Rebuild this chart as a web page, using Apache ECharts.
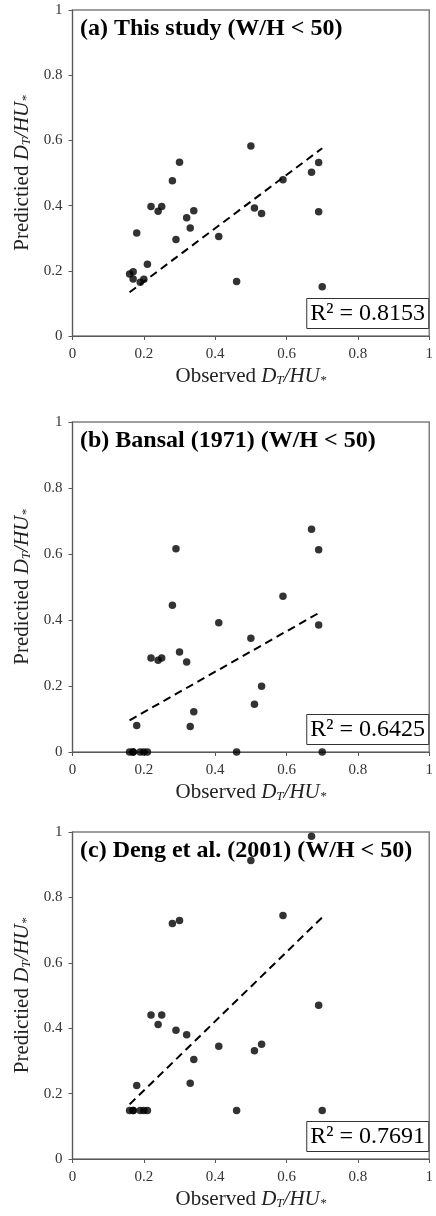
<!DOCTYPE html>
<html>
<head>
<meta charset="utf-8">
<script src="https://cdn.jsdelivr.net/npm/echarts@6/dist/echarts.min.js"></script>
<style>
  html, body { margin: 0; padding: 0; background: #fff; }
  #main { width: 436px; height: 1216px; }
</style>
</head>
<body>
<div id="main"></div>
<script>
// observed values (shared by the three panels)
var observed = [0.16, 0.17, 0.17, 0.18, 0.19, 0.20, 0.21, 0.22, 0.24, 0.25, 0.28, 0.29, 0.30,
                0.32, 0.33, 0.34, 0.41, 0.46, 0.50, 0.51, 0.53, 0.59, 0.67, 0.69, 0.69, 0.70];
// predicted values, one array per panel
var predThisStudy = [0.190, 0.197, 0.175, 0.316, 0.165, 0.174, 0.220, 0.397, 0.383, 0.397, 0.476, 0.296, 0.533,
                     0.363, 0.331, 0.384, 0.305, 0.167, 0.583, 0.393, 0.376, 0.479, 0.502, 0.532, 0.381, 0.151];
var predBansal = [0, 0, 0, 0.080, 0, 0, 0, 0.285, 0.278, 0.285, 0.445, 0.616, 0.303,
                  0.273, 0.077, 0.122, 0.392, 0, 0.345, 0.145, 0.199, 0.472, 0.675, 0.613, 0.385, 0];
var predDeng = [0.148, 0.148, 0.148, 0.225, 0.148, 0.148, 0.148, 0.440, 0.411, 0.440, 0.720, 0.394, 0.729,
                0.380, 0.232, 0.304, 0.345, 0.148, 0.913, 0.331, 0.351, 0.745, 0.987, 0.470, null, 0.148];
// trend line end points
var trendThisStudy = [[0.16, 0.134], [0.70, 0.576]];
var trendBansal = [[0.16, 0.096], [0.69, 0.421]];
var trendDeng = [[0.16, 0.167], [0.70, 0.739]];
var panelTitles = ['(a) This study (W/H < 50)', '(b) Bansal (1971) (W/H < 50)', '(c) Deng et al. (2001) (W/H < 50)'];
var r2Labels = ['R\u00b2 = 0.8153', 'R\u00b2 = 0.6425', 'R\u00b2 = 0.7691'];

var chart = echarts.init(document.getElementById('main'));
var FONT = '"Liberation Serif", "Times New Roman", serif';

// panel positions
var grids = [
  { left: 72.5, top: 10, width: 362, height: 326 },
  { left: 72.5, top: 422, width: 362, height: 330 },
  { left: 72.5, top: 832, width: 362, height: 327 }
];
var preds = [predThisStudy, predBansal, predDeng];
var trends = [trendThisStudy, trendBansal, trendDeng];

// axis names: italic D, subscript T, italic /HU, subscript *
var nameRich = {
  n: { fontFamily: FONT, fontSize: 21, color: '#222', lineHeight: 21, verticalAlign: 'top' },
  i: { fontFamily: FONT, fontSize: 21, fontStyle: 'italic', color: '#222', lineHeight: 21, verticalAlign: 'top' },
  s: { fontFamily: FONT, fontSize: 13, fontStyle: 'italic', color: '#222', lineHeight: 13, padding: [11, 0, 0, 0], verticalAlign: 'bottom' }
};

var xAxes = [], yAxes = [], series = [], titles = [];
for (var k = 0; k < 3; k++) {
  xAxes.push({
    gridIndex: k, type: 'value', min: 0, max: 1, interval: 0.2,
    name: '{n|Observed }{i|D}{s|T}{i|/HU}{s|*}',
    nameLocation: 'middle', nameGap: 24,
    nameTextStyle: { rich: nameRich },
    axisLine: { onZero: false, lineStyle: { color: '#595959', width: 1 } },
    axisTick: { show: true, length: 4, lineStyle: { color: '#595959' } },
    axisLabel: { fontFamily: FONT, fontSize: 15, color: '#333', margin: 11 },
    splitLine: { show: false }
  });
  yAxes.push({
    gridIndex: k, type: 'value', min: 0, max: 1, interval: 0.2,
    name: '{n|Predictied }{i|D}{s|T}{i|/HU}{s|*}',
    nameLocation: 'middle', nameGap: 35,
    nameTextStyle: { rich: nameRich },
    axisLine: { show: true, onZero: false, lineStyle: { color: '#595959', width: 1 } },
    axisTick: { show: true, length: 4, lineStyle: { color: '#595959' } },
    axisLabel: { fontFamily: FONT, fontSize: 15, color: '#333', margin: 10 },
    splitLine: { show: false }
  });
  var pts = [];
  for (var j = 0; j < observed.length; j++) {
    if (preds[k][j] !== null) pts.push([observed[j], preds[k][j]]);
  }
  series.push({
    type: 'scatter', xAxisIndex: k, yAxisIndex: k, data: pts,
    symbol: 'circle', symbolSize: 7.5,
    itemStyle: { color: '#000' }, silent: true
  });
  series.push({
    type: 'line', xAxisIndex: k, yAxisIndex: k, data: trends[k],
    symbol: 'none', silent: true,
    lineStyle: { color: '#000', width: 2, type: [8, 5] }
  });
  titles.push({
    text: panelTitles[k], left: 80, top: grids[k].top + 7, padding: 0,
    textStyle: { fontFamily: FONT, fontSize: 24, fontWeight: 'bold', color: '#000', lineHeight: 24 }
  });
  titles.push({
    text: r2Labels[k], right: 7, top: grids[k].top + grids[k].height - 38,
    padding: [2, 4, 2, 4], borderColor: '#333', borderWidth: 1, backgroundColor: '#fff',
    textStyle: { fontFamily: FONT, fontSize: 24, fontWeight: 'normal', color: '#000', lineHeight: 27 }
  });
}

var option = {
  animation: false,
  title: titles,
  grid: grids.map(function (g) {
    return { left: g.left, top: g.top, width: g.width, height: g.height,
             show: true, borderColor: '#7f7f7f', borderWidth: 1.5, backgroundColor: 'transparent' };
  }),
  xAxis: xAxes,
  yAxis: yAxes,
  series: series
};
chart.setOption(option);
</script>
</body>
</html>
